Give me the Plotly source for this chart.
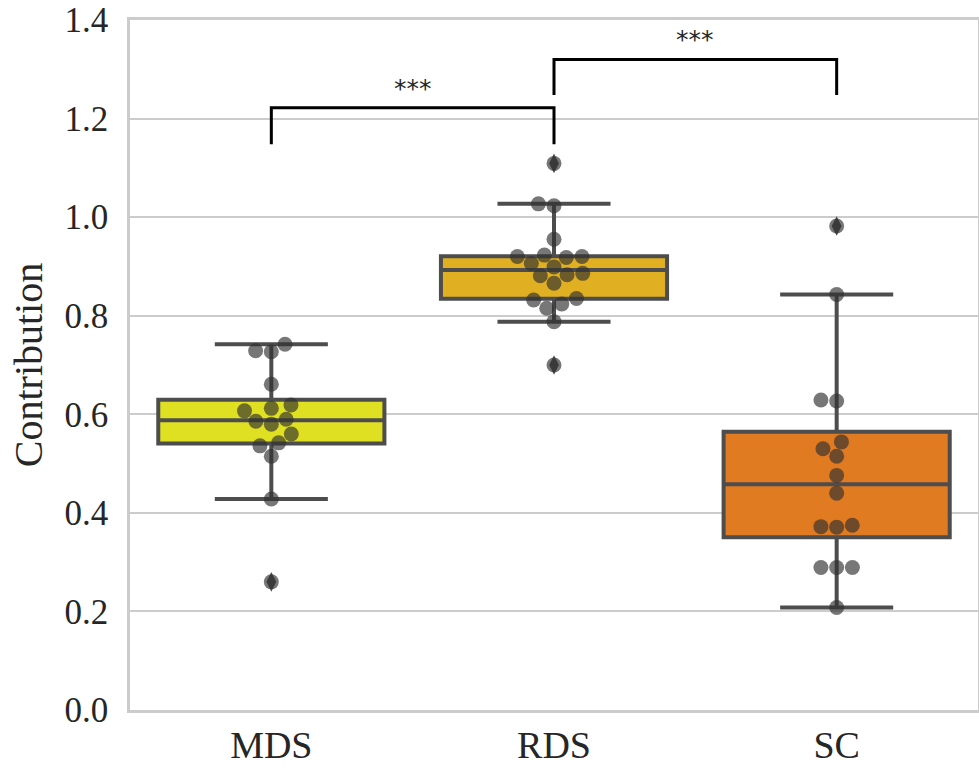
import numpy as np
import plotly.graph_objects as go

# ---------------- data ----------------
categories = ["MDS", "RDS", "SC"]
mds_values = [0.742, 0.729, 0.727, 0.661, 0.619, 0.612, 0.607, 0.590, 0.586,
              0.580, 0.560, 0.542, 0.536, 0.515, 0.428, 0.260]
rds_values = [1.109, 1.027, 1.023, 0.955, 0.923, 0.920, 0.920, 0.918, 0.906,
              0.899, 0.886, 0.883, 0.881, 0.866, 0.835, 0.832, 0.824, 0.815,
              0.788, 0.700]
sc_values = [0.982, 0.843, 0.629, 0.627, 0.544, 0.530, 0.515, 0.476, 0.440,
             0.375, 0.372, 0.371, 0.289, 0.289, 0.289, 0.208]
y_tick_values = [0.0, 0.2, 0.4, 0.6, 0.8, 1.0, 1.2, 1.4]
significance_pairs = [(0, 1, "***"), (1, 2, "***")]
y_label = "Contribution"

# ---------------- style ----------------
W, H = 979, 768
M_L, M_R, M_T, M_B = 130, 1, 20, 58
Y_RANGE = [0.0, 1.4]
X_RANGE = [-0.5, 2.5]
box_fills = ["#E0E022", "#E0B022", "#E07B22"]
edge_color = "#4d4d4d"
point_color = "rgba(48,48,48,0.66)"
grid_color = "#cccccc"
text_color = "#262626"
serif = "Liberation Serif, Times New Roman, serif"
POINT_D = 15.0  # marker diameter in px
BRACKET_LEGS = [1.148, 1.248]
BRACKET_TOPS = [1.222, 1.320]

plot_w = W - M_L - M_R
plot_h = H - M_T - M_B
px_per_y = plot_h / (Y_RANGE[1] - Y_RANGE[0])
px_per_x = plot_w / (X_RANGE[1] - X_RANGE[0])


def box_stats(vals):
    v = np.asarray(vals, float)
    q1, med, q3 = np.percentile(v, [25, 50, 75])
    iqr = q3 - q1
    lo_lim, hi_lim = q1 - 1.5 * iqr, q3 + 1.5 * iqr
    inside = v[(v >= lo_lim) & (v <= hi_lim)]
    out = v[(v < lo_lim) | (v > hi_lim)]
    return q1, med, q3, inside.min(), inside.max(), out


def beeswarm_offsets(vals):
    """seaborn-like swarm layout in pixel space; returns x offsets in data units"""
    y = np.asarray(vals, float) * px_per_y
    r = POINT_D / 2
    order = np.argsort(y, kind="stable")
    placed = []  # (x, y)
    res = np.zeros(len(y))
    for k, idx in enumerate(order):
        yi = y[idx]
        if k == 0:
            placed.append((0.0, yi))
            res[idx] = 0.0
            continue
        neighbors = []
        for (xj, yj) in reversed(placed):
            if yi - yj < 2 * r:
                neighbors.append((xj, yj))
            else:
                break
        cands = [0.0]
        left_first = True
        for (xj, yj) in neighbors:
            dy = yi - yj
            dx = np.sqrt(max((2 * r) ** 2 - dy ** 2, 0)) * 1.05
            pair = [xj - dx, xj + dx] if left_first else [xj + dx, xj - dx]
            cands.extend(pair)
            left_first = not left_first
        cands = np.array(cands)
        cands = cands[np.argsort(np.abs(cands), kind="stable")]
        chosen = cands[0]
        if neighbors:
            nb = np.array(neighbors)
            for c in cands:
                d2 = (nb[:, 0] - c) ** 2 + (nb[:, 1] - yi) ** 2
                if np.all(d2 >= (2 * r) ** 2 - 1e-9):
                    chosen = c
                    break
        placed.append((chosen, yi))
        res[idx] = chosen
    return res / px_per_x


fig = go.Figure()
all_series = [mds_values, rds_values, sc_values]

for i, vals in enumerate(all_series):
    q1, med, q3, lo, hi, out = box_stats(vals)
    fig.add_trace(go.Box(
        x=[i], q1=[q1], median=[med], q3=[q3], lowerfence=[lo], upperfence=[hi],
        width=0.8, whiskerwidth=0.5, fillcolor=box_fills[i],
        line=dict(color=edge_color, width=4), boxpoints=False,
        showlegend=False, hoverinfo="skip"))
    if len(out):
        fig.add_trace(go.Scatter(
            x=[i] * len(out), y=list(out), mode="markers",
            marker=dict(symbol="diamond-tall", size=14, color=edge_color, line=dict(width=0)),
            showlegend=False, hoverinfo="skip"))

for i, vals in enumerate(all_series):
    offs = beeswarm_offsets(vals)
    fig.add_trace(go.Scatter(
        x=i + offs, y=vals, mode="markers",
        marker=dict(size=POINT_D, color=point_color, line=dict(width=0)),
        showlegend=False, hoverinfo="skip"))

# significance brackets
for k, (a, b, label) in enumerate(significance_pairs):
    fig.add_trace(go.Scatter(
        x=[a, a, b, b], y=[BRACKET_LEGS[k], BRACKET_TOPS[k], BRACKET_TOPS[k], BRACKET_LEGS[k]],
        mode="lines", line=dict(color="black", width=3),
        showlegend=False, hoverinfo="skip"))
    fig.add_annotation(
        x=(a + b) / 2, y=BRACKET_TOPS[k], text=label, showarrow=False,
        xanchor="center", yanchor="bottom", yshift=3,
        font=dict(family="DejaVu Sans", size=25, color=text_color))

fig.update_layout(
    width=W, height=H,
    margin=dict(l=M_L, r=M_R, t=M_T, b=M_B, autoexpand=False),
    plot_bgcolor="white", paper_bgcolor="white",
    font=dict(family=serif, color=text_color),
)
fig.update_xaxes(
    range=X_RANGE, tickvals=[0, 1, 2], ticktext=categories,
    showgrid=False, zeroline=False, automargin=False,
    showline=True, linecolor=grid_color, linewidth=2.5, mirror=True,
    ticks="", tickfont=dict(family=serif, size=38, color=text_color),
    ticklabelstandoff=0,
)
fig.update_yaxes(
    range=Y_RANGE, tickvals=y_tick_values, automargin=False,
    ticktext=[f"{v:.1f}" for v in y_tick_values],
    showgrid=True, gridcolor=grid_color, gridwidth=2, zeroline=False,
    showline=True, linecolor=grid_color, linewidth=2.5, mirror=True,
    ticks="", tickfont=dict(family=serif, size=35, color=text_color),
    ticklabelstandoff=12,
    title=dict(text=y_label, font=dict(family=serif, size=40, color=text_color), standoff=10),
)

fig.write_html("out.html")
